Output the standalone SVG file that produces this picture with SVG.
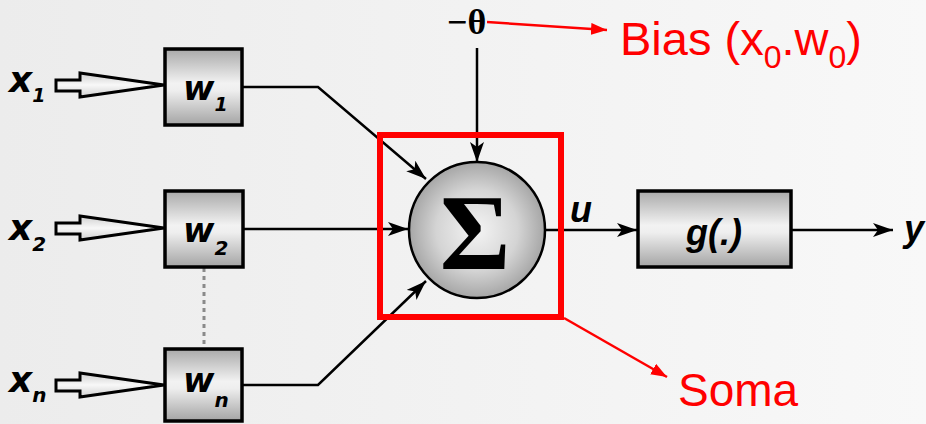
<svg xmlns="http://www.w3.org/2000/svg" width="926" height="424" viewBox="0 0 926 424">
<defs>
<linearGradient id="bg" x1="0" y1="0" x2="1" y2="0">
<stop offset="0" stop-color="#ececec"/>
<stop offset="1" stop-color="#f8f8f8"/>
</linearGradient>
<linearGradient id="boxg" x1="0" y1="0" x2="0" y2="1">
<stop offset="0" stop-color="#a9a9a9"/>
<stop offset="0.45" stop-color="#f2f2f2"/>
<stop offset="0.55" stop-color="#eeeeee"/>
<stop offset="1" stop-color="#a4a4a4"/>
</linearGradient>
<linearGradient id="arrg" x1="0" y1="0" x2="0" y2="1">
<stop offset="0" stop-color="#cfcfcf"/>
<stop offset="0.5" stop-color="#f8f8f8"/>
<stop offset="1" stop-color="#d0d0d0"/>
</linearGradient>
<radialGradient id="circg" cx="0.5" cy="0.5" r="0.5">
<stop offset="0" stop-color="#f4f4f4"/>
<stop offset="0.6" stop-color="#d4d4d4"/>
<stop offset="1" stop-color="#a6a6a6"/>
</radialGradient>
<marker id="ah" markerUnits="userSpaceOnUse" markerWidth="22" markerHeight="16" refX="20" refY="7" orient="auto">
<path d="M0,0 L20,7 L0,14 L5,7 Z" fill="#000"/>
</marker>
<marker id="rh" markerUnits="userSpaceOnUse" markerWidth="18" markerHeight="14" refX="16" refY="6" orient="auto">
<path d="M0,0 L16,6 L0,12 Z" fill="#ff0000"/>
</marker>
<style>
.box{fill:url(#boxg);stroke:#000;stroke-width:3.5}
.blk{fill:url(#arrg);stroke:#000;stroke-width:3;stroke-linejoin:miter}
.ln{fill:none;stroke:#000;stroke-width:2.5}
.lbl{font-family:"DejaVu Sans",sans-serif;font-weight:bold;font-style:italic;fill:#000}
.lbl2{font-family:"Liberation Sans",Arial,sans-serif;font-weight:bold;font-style:italic;fill:#000}
.red{font-family:"Liberation Sans",Arial,sans-serif;fill:#ff0000}
.rl{fill:none;stroke:#ff0000;stroke-width:2.5}
</style>
</defs>
<rect x="0" y="0" width="926" height="424" fill="url(#bg)"/>

<g id="connectors">
<polyline class="ln" points="242,87 318,87 426,179" marker-end="url(#ah)"/>
<line class="ln" x1="243" y1="229" x2="408" y2="229" marker-end="url(#ah)"/>
<polyline class="ln" points="242,385 318,385 426,281" marker-end="url(#ah)"/>
<line class="ln" x1="477" y1="48" x2="477" y2="162" marker-end="url(#ah)"/>
<line class="ln" x1="545" y1="230" x2="637" y2="230" marker-end="url(#ah)"/>
<line class="ln" x1="792" y1="230" x2="893" y2="230" marker-end="url(#ah)"/>
<line x1="204" y1="268" x2="204" y2="347" stroke="#8a8a8a" stroke-width="3" stroke-dasharray="4,4"/>
<line class="rl" x1="487" y1="22" x2="607" y2="30" marker-end="url(#rh)"/>
<line class="rl" x1="564" y1="318" x2="667" y2="377" marker-end="url(#rh)"/>
</g>

<g id="x1">
<path class="blk" d="M56,80 H80 V73 L164,85 L80,97 V91 H56 Z"/>
<text class="lbl" x="9" y="92" font-size="36">x<tspan font-size="19" dy="10">1</tspan></text>
</g>
<g id="x2">
<path class="blk" d="M56,223 H80 V216 L164,228 L80,240 V234 H56 Z"/>
<text class="lbl" x="9" y="240" font-size="36">x<tspan font-size="20" dy="11">2</tspan></text>
</g>
<g id="xn">
<path class="blk" d="M56,380 H80 V373 L164,385 L80,397 V391 H56 Z"/>
<text class="lbl" x="9" y="392" font-size="36">x<tspan font-size="20" dy="10">n</tspan></text>
</g>

<g id="w1">
<rect class="box" x="165" y="49" width="77" height="76"/>
<text class="lbl" x="183" y="100" font-size="34">w<tspan font-size="19" dy="11">1</tspan></text>
</g>
<g id="w2">
<rect class="box" x="165" y="191" width="78" height="76"/>
<text class="lbl" x="183" y="242" font-size="34">w<tspan font-size="20" dy="13">2</tspan></text>
</g>
<g id="wn">
<rect class="box" x="165" y="349" width="77" height="72"/>
<text class="lbl" x="183" y="392" font-size="34">w<tspan font-size="20" dy="15">n</tspan></text>
</g>

<g id="theta">
<text x="447" y="34" font-family="'Liberation Serif','Times New Roman',serif" font-weight="bold" font-size="36" fill="#000">−θ</text>
</g>

<g id="sum">
<circle cx="477" cy="230" r="68" fill="url(#circg)" stroke="#000" stroke-width="2.5"/>
<text x="475" y="269" text-anchor="middle" font-family="'Liberation Serif','Times New Roman',serif" font-weight="bold" font-size="108" fill="#000">Σ</text>
</g>

<g id="soma-box">
<rect x="380" y="135" width="181" height="182" fill="none" stroke="#ff0000" stroke-width="6"/>
</g>

<g id="u-label">
<text class="lbl2" x="570" y="222" font-size="36">u</text>
</g>

<g id="g">
<rect class="box" x="638" y="191" width="153" height="76"/>
<text class="lbl2" x="714" y="245" text-anchor="middle" font-size="36">g(.)</text>
</g>

<g id="y-label">
<text class="lbl2" x="904" y="241" font-size="36">y</text>
</g>

<g id="bias">
<text class="red" x="620" y="55" font-size="47">Bias (x<tspan font-size="32" dy="13">0</tspan><tspan dy="-13">.w</tspan><tspan font-size="32" dy="13">0</tspan><tspan dy="-13">)</tspan></text>
</g>

<g id="soma">
<text class="red" x="678" y="406" font-size="46">Soma</text>
</g>
</svg>
